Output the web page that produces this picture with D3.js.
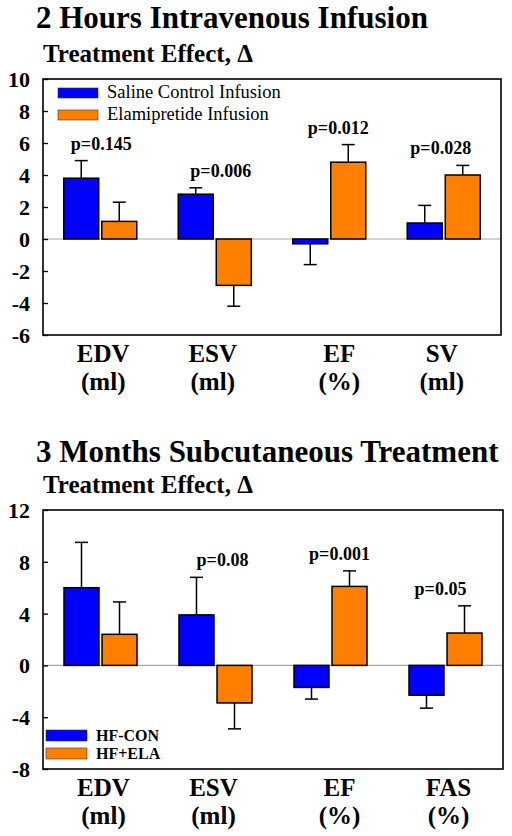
<!DOCTYPE html>
<html>
<head>
<meta charset="utf-8">
<script src="https://cdn.jsdelivr.net/npm/d3@7"></script>
<style>
  html, body { margin: 0; padding: 0; background: #fff; }
  svg { display: block; }
  svg text { font-family: "Liberation Serif", "Times New Roman", serif; fill: #000; }
</style>
</head>
<body>
<svg id="chart" width="512" height="836"></svg>
<script>
// ---------- DATA ----------
const titleTop = "2 Hours Intravenous Infusion";
const titleBottom = "3 Months Subcutaneous Treatment";
const subtitle = "Treatment Effect, \u0394";

const categoriesTop = ["EDV", "ESV", "EF", "SV"];
const unitsTop = ["(ml)", "(ml)", "(%)", "(ml)"];
const seriesTop = ["Saline Control Infusion", "Elamipretide Infusion"];
const salineValues = [3.8, 2.8, -0.3, 1.0];
const salineErrors = [1.1, 0.4, 1.3, 1.1];
const elamValues = [1.1, -2.9, 4.8, 4.0];
const elamErrors = [1.2, 1.3, 1.1, 0.6];
const pLabelsTop = ["p=0.145", "p=0.006", "p=0.012", "p=0.028"];
const ticksTop = [-6, -4, -2, 0, 2, 4, 6, 8, 10];

const categoriesBottom = ["EDV", "ESV", "EF", "FAS"];
const unitsBottom = ["(ml)", "(ml)", "(%)", "(%)"];
const seriesBottom = ["HF-CON", "HF+ELA"];
const hfConValues = [6.0, 3.9, -1.7, -2.3];
const hfConErrors = [3.5, 2.9, 0.9, 1.0];
const hfElaValues = [2.4, -2.9, 6.1, 2.5];
const hfElaErrors = [2.5, 2.0, 1.2, 2.1];
const pLabelsBottom = ["", "p=0.08", "p=0.001", "p=0.05"];
const ticksBottom = [-8, -4, 0, 4, 8, 12];

const colors = ["#0000ff", "#ff8000"];

// ---------- DRAW ----------
const svg = d3.select("#chart");

function panel(cfg) {
  const g = svg.append("g");
  const L = 43, R = cfg.right, T = cfg.top, B = cfg.bottom;

  g.append("text").attr("x", 36).attr("y", cfg.titleY)
    .attr("font-size", 31).attr("font-weight", "bold").text(cfg.title);
  g.append("text").attr("x", 43).attr("y", cfg.subY)
    .attr("font-size", 25).attr("font-weight", "bold").text(subtitle);

  const x0 = d3.scaleBand().domain(cfg.categories).range([L, R]).padding(0);
  const bw = x0.bandwidth();
  const x1 = d3.scaleBand().domain([0, 1])
    .range([bw / 2 - 36.5, bw / 2 + 36.5]).paddingInner(0.08);
  const y = d3.scaleLinear().domain(cfg.domain).range([B, T]);

  // zero line
  g.append("line").attr("x1", L).attr("x2", R)
    .attr("y1", y(0)).attr("y2", y(0))
    .attr("stroke", "#a8a8a8").attr("stroke-width", 1.2);

  // axis
  const ax = g.append("g").attr("transform", `translate(${L},0)`)
    .call(d3.axisLeft(y).tickValues(cfg.ticks).tickSizeInner(-5)
      .tickSizeOuter(0).tickPadding(13).tickFormat(d => String(d)));
  ax.attr("font-family", null).attr("font-size", null);
  ax.select(".domain").remove();
  ax.selectAll(".tick line").attr("stroke", "#000").attr("stroke-width", 1.3);
  ax.selectAll(".tick text").attr("font-size", 22).attr("font-weight", "bold")
    .attr("dy", "0.34em");

  const series = [
    { vals: cfg.v0, errs: cfg.e0 },
    { vals: cfg.v1, errs: cfg.e1 }
  ];
  series.forEach((s, si) => {
    const gs = g.append("g");
    cfg.categories.forEach((c, i) => {
      const v = s.vals[i], e = s.errs[i];
      const bx = x0(c) + x1(si);
      const w = x1.bandwidth();
      const cx = bx + w / 2;
      const tip = v >= 0 ? v + e : v - e;
      // error bar
      gs.append("line").attr("x1", cx).attr("x2", cx)
        .attr("y1", y(v)).attr("y2", y(tip))
        .attr("stroke", "#000").attr("stroke-width", 1.5);
      gs.append("line").attr("x1", cx - 6.5).attr("x2", cx + 6.5)
        .attr("y1", y(tip)).attr("y2", y(tip))
        .attr("stroke", "#000").attr("stroke-width", 1.5);
      gs.append("rect").attr("x", bx).attr("width", w)
        .attr("y", y(Math.max(0, v)))
        .attr("height", Math.abs(y(v) - y(0)))
        .attr("fill", colors[si]).attr("stroke", "#000").attr("stroke-width", 1.5);
    });
  });

  // p labels
  cfg.categories.forEach((c, i) => {
    if (!cfg.p[i]) return;
    const tops = [0, 1].map(si => {
      const v = series[si].vals[i], e = series[si].errs[i];
      return Math.max(v >= 0 ? v + e : 0, 0);
    });
    g.append("text").attr("x", x0(c) + bw / 2 + cfg.pdx[i])
      .attr("y", y(Math.max(...tops)) - 11)
      .attr("text-anchor", "middle").attr("font-size", 18)
      .attr("font-weight", "bold").text(cfg.p[i]);
  });

  // frame
  g.append("rect").attr("x", L).attr("y", T).attr("width", R - L).attr("height", B - T)
    .attr("fill", "none").attr("stroke", "#000").attr("stroke-width", 1.6);

  // category labels
  cfg.categories.forEach((c, i) => {
    const cx = x0(c) + bw / 2 + cfg.ldx[i];
    g.append("text").attr("x", cx).attr("y", B + 27).attr("text-anchor", "middle")
      .attr("font-size", 25).attr("font-weight", "bold").text(c);
    g.append("text").attr("x", cx).attr("y", B + 55).attr("text-anchor", "middle")
      .attr("font-size", 25).attr("font-weight", "bold").text(cfg.units[i]);
  });

  // legend
  cfg.series.forEach((s, si) => {
    const ly = cfg.legY + si * cfg.legStep;
    g.append("rect").attr("x", cfg.legX).attr("y", ly)
      .attr("width", cfg.legW).attr("height", cfg.legH)
      .attr("fill", colors[si]).attr("stroke", "#333").attr("stroke-width", 0.6);
    g.append("text").attr("x", cfg.legX + cfg.legW + 9).attr("y", ly + cfg.legH)
      .attr("font-size", cfg.legFont).attr("font-weight", cfg.legWeight).text(s);
  });
}

panel({
  title: titleTop, titleY: 28, subY: 62,
  top: 79, bottom: 335, right: 501, domain: [-6, 10], ticks: ticksTop,
  categories: categoriesTop, units: unitsTop, series: seriesTop,
  v0: salineValues, e0: salineErrors, v1: elamValues, e1: elamErrors,
  p: pLabelsTop, pdx: [1, 6, 9, -3], ldx: [3, -2, 10, -2],
  legX: 58, legY: 88, legStep: 22, legW: 40, legH: 10, legFont: 18.5, legWeight: "normal"
});

panel({
  title: titleBottom, titleY: 462, subY: 493,
  top: 510, bottom: 769, right: 503, domain: [-8, 12], ticks: ticksBottom,
  categories: categoriesBottom, units: unitsBottom, series: seriesBottom,
  v0: hfConValues, e0: hfConErrors, v1: hfElaValues, e1: hfElaErrors,
  p: pLabelsBottom, pdx: [0, 7, 9, -5], ldx: [3, -2, 9, 3],
  legX: 46, legY: 730, legStep: 18, legW: 41, legH: 11, legFont: 16, legWeight: "bold"
});
</script>
</body>
</html>
